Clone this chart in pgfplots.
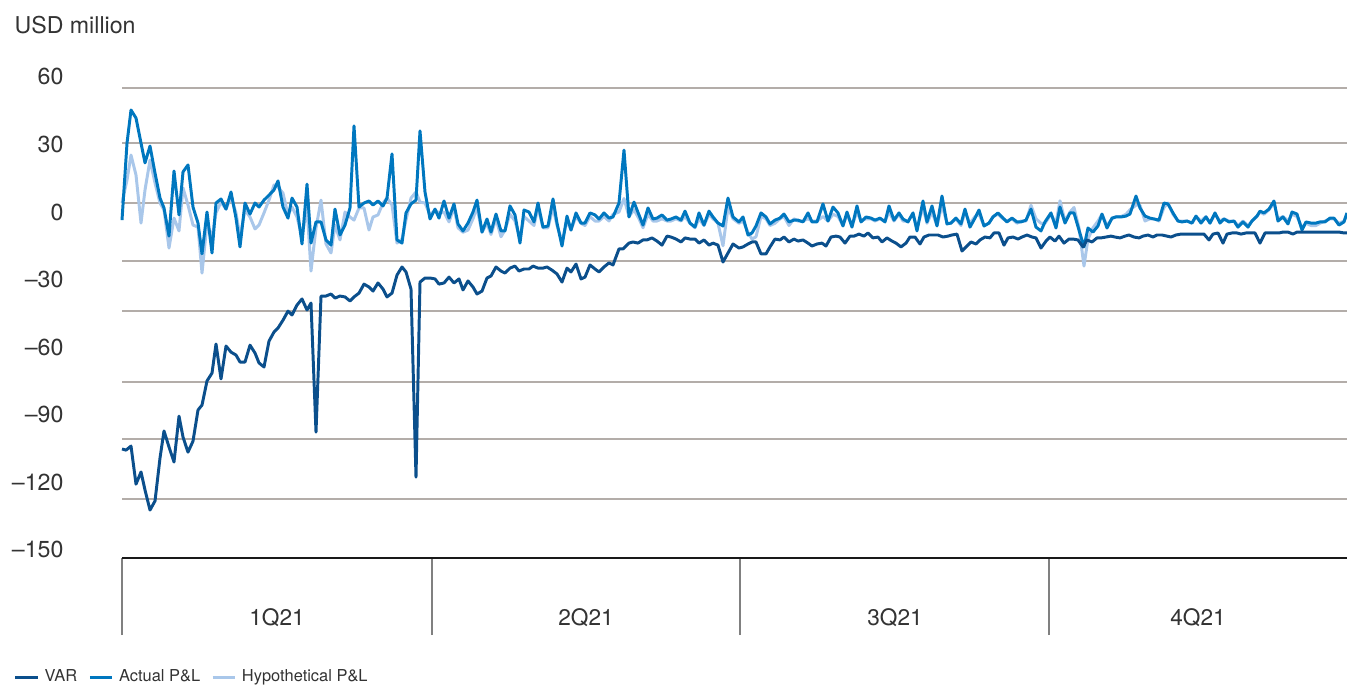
\documentclass[border=0pt]{standalone}
\usepackage{pgfplots}
\pgfplotsset{compat=1.18}
\usepackage{pgfplotstable}
\usepackage{fontspec}
\setmainfont{TeX Gyre Heros}
\definecolor{varc}{HTML}{0B4F8C}
\definecolor{actc}{HTML}{0077BF}
\definecolor{hypc}{HTML}{A9C7EA}
\definecolor{gridc}{HTML}{B3ADA9}
\definecolor{txtc}{HTML}{333333}

\pgfplotstableread{
x y
122 -105.2
126 -105.7
131 -103.9
136 -120.8
141 -115.4
145 -123.4
150 -132.3
155 -128.3
160 -109.2
164 -97.2
169 -104.3
174 -111.0
179 -90.6
183 -99.9
188 -106.6
193 -101.7
198 -87.9
202 -85.7
207 -75.0
212 -71.5
216 -58.6
221 -74.1
226 -59.5
231 -62.2
236 -63.5
240 -66.6
245 -66.6
250 -59.1
255 -62.6
259 -67.0
264 -68.8
269 -57.3
274 -53.3
278 -51.5
283 -48.0
288 -44.0
292 -45.7
297 -41.3
302 -38.6
307 -43.5
311 -40.4
316 -97.7
321 -37.3
326 -37.3
331 -36.4
335 -38.2
340 -37.3
345 -37.7
350 -39.5
354 -37.7
359 -36.0
364 -32.0
369 -33.3
373 -35.1
378 -31.5
383 -34.2
387 -37.7
392 -36.0
397 -28.0
402 -24.4
406 -26.6
411 -34.2
416 -117.7
420 -31.1
425 -29.3
430 -29.3
435 -29.7
439 -32.0
444 -31.5
449 -28.9
454 -31.5
459 -29.7
463 -34.6
468 -30.6
473 -33.3
477 -36.4
482 -35.1
487 -29.3
491 -28.4
496 -24.4
501 -26.2
505 -27.1
510 -24.9
515 -24.0
519 -26.2
524 -25.3
529 -25.3
533 -24.0
538 -24.9
543 -24.9
547 -24.4
552 -25.8
557 -27.5
562 -31.1
567 -24.9
571 -26.6
576 -23.1
581 -29.7
585 -28.9
590 -23.5
595 -25.3
599 -26.6
604 -24.4
609 -22.6
613 -23.5
619 -16.4
623 -16.4
629 -13.8
633 -13.3
638 -13.8
643 -12.4
647 -12.4
652 -11.5
657 -12.9
662 -14.7
667 -10.7
671 -11.1
676 -12.0
681 -13.3
685 -11.5
690 -12.0
695 -12.0
699 -13.8
704 -12.4
709 -14.7
713 -13.8
718 -14.7
723 -22.2
728 -18.2
733 -14.2
739 -16.0
743 -15.5
748 -14.2
752 -13.3
756 -13.3
761 -18.6
766 -18.6
770 -15.5
775 -12.0
780 -12.4
784 -11.1
789 -13.3
794 -12.0
798 -12.9
803 -12.4
808 -13.8
812 -15.1
817 -14.2
822 -13.8
826 -15.1
831 -11.1
836 -10.7
840 -11.1
845 -13.8
850 -10.7
854 -10.7
859 -9.8
864 -10.7
868 -9.3
873 -11.5
878 -11.1
882 -13.3
887 -11.5
892 -12.9
896 -13.8
901 -15.5
906 -13.8
910 -11.1
915 -11.1
920 -14.2
924 -11.1
929 -10.2
934 -10.2
938 -10.2
943 -11.1
948 -10.7
952 -10.2
957 -9.8
962 -17.3
966 -15.5
971 -13.3
976 -14.2
980 -12.4
985 -11.1
990 -11.5
994 -9.3
999 -9.3
1004 -14.7
1008 -11.5
1013 -11.1
1018 -12.0
1022 -11.1
1027 -10.2
1032 -11.1
1036 -11.5
1041 -16.0
1046 -12.9
1050 -11.1
1055 -12.9
1059 -10.7
1064 -13.8
1069 -12.0
1073 -12.0
1078 -12.4
1083 -15.5
1087 -12.4
1092 -13.3
1097 -11.5
1101 -11.5
1106 -11.1
1111 -10.7
1115 -11.1
1120 -11.5
1125 -10.7
1129 -10.2
1134 -11.1
1139 -11.5
1143 -10.7
1148 -10.2
1153 -11.1
1157 -10.2
1162 -10.2
1167 -10.7
1171 -11.1
1176 -10.2
1181 -9.8
1185 -9.8
1190 -9.8
1195 -9.8
1199 -9.8
1204 -9.8
1209 -12.4
1213 -9.8
1218 -9.3
1223 -13.8
1227 -9.8
1232 -9.3
1237 -9.3
1241 -9.8
1246 -9.3
1251 -9.3
1255 -9.3
1260 -13.8
1265 -9.3
1269 -9.3
1274 -9.3
1279 -9.3
1283 -8.9
1288 -8.9
1293 -9.8
1297 -8.9
1302 -8.9
1307 -8.9
1311 -8.9
1316 -8.9
1321 -8.9
1325 -8.9
1330 -8.9
1335 -8.9
1339 -8.9
1344 -9.3
1347 -9.3
}\varT

\pgfplotstableread{
x y
122 -3.6
127 30.6
131 45.3
136 41.7
141 30.6
145 21.8
150 29.3
155 17.3
160 6.2
164 1.8
169 -10.7
174 18.2
179 -1.3
183 17.8
188 20.9
193 2.2
198 -4.9
202 -18.6
207 0
212 -18.2
216 4.0
221 5.8
226 1.3
231 8.9
236 -2.7
240 -15.5
245 4.0
250 -0.9
255 4.0
259 2.2
264 5.3
269 7.5
274 9.8
278 13.8
283 2.2
288 -2.7
292 6.2
297 2.2
302 -14.2
307 12.4
311 -13.8
316 -4.4
321 -4.4
326 -12.4
331 -14.7
335 1.3
340 -10.2
345 -5.8
350 1.8
354 38.2
359 2.2
364 4.0
369 4.9
373 3.1
378 4.9
383 2.7
387 6.2
392 25.8
397 -12.4
402 -13.8
406 -0.4
411 3.6
416 5.3
420 36.0
425 8.9
430 -3.1
435 1.3
439 -2.7
444 4.9
449 -2.7
454 3.6
458 -5.3
463 -8.4
468 -4.9
473 0
477 5.3
482 -8.9
487 -3.1
491 -8.9
496 -0.9
501 -8.4
505 -8.4
510 2.7
515 -1.3
520 -13.8
524 0.9
529 0
534 -4.4
538 4.0
543 -6.7
548 -6.2
553 5.8
557 -4.9
562 -15.1
567 -1.8
571 -8.0
576 -0.4
581 -4.9
585 -4.9
590 -0.4
595 -1.3
599 -3.1
604 -0.4
609 -2.7
613 -2.2
619 4.0
624 27.5
629 -2.2
634 4.4
639 -1.3
643 -5.8
648 1.8
653 -3.1
657 -2.7
662 -1.3
667 -3.6
671 -3.1
676 -2.2
681 -3.6
685 0.4
690 -4.9
695 -6.7
699 -0.4
704 -5.8
709 0.4
713 -2.2
718 -4.9
723 -6.2
728 6.2
733 -2.2
739 -4.4
743 -2.2
748 -10.2
752 -9.3
756 -6.2
761 -0.4
766 -2.2
770 -5.3
775 -3.6
780 -2.7
784 -0.9
789 -4.4
794 -3.6
798 -3.6
803 -4.4
808 -0.4
812 -4.4
817 -4.4
823 3.6
828 -4.0
833 2.2
838 -0.4
843 -6.2
847 0
852 -6.7
857 2.7
861 -4.4
866 -2.2
871 -2.7
875 -3.6
880 -2.7
885 -4.4
889 2.7
894 -3.6
899 -0.4
903 -3.1
908 -4.4
913 -0.4
917 -8.4
923 4.9
927 -4.4
932 2.7
937 -6.2
942 7.1
947 -5.3
951 -4.9
956 -2.7
961 -5.3
965 1.3
970 -6.7
975 -2.7
979 0.9
984 -6.2
989 -4.9
993 -2.2
998 -0.4
1003 -2.7
1007 -4.4
1012 -2.7
1017 -4.4
1021 -4.4
1026 -3.6
1031 1.3
1036 -6.7
1041 -8.4
1045 -4.4
1051 -0.4
1056 -7.1
1060 2.2
1065 -4.9
1070 -0.4
1074 -0.4
1079 -8.0
1084 -15.5
1088 -7.1
1093 -8.9
1098 -6.2
1102 -0.9
1107 -7.1
1112 -2.7
1116 -2.2
1121 -2.2
1126 -1.8
1130 -0.9
1136 7.1
1140 1.8
1145 -1.8
1150 -2.7
1154 -3.1
1159 -3.6
1164 4.0
1168 3.6
1173 -0.4
1178 -4.0
1182 -4.4
1187 -4.0
1192 -4.9
1196 -1.8
1201 -4.9
1206 -2.2
1210 -4.9
1215 -0.4
1220 -4.9
1224 -3.1
1229 -4.4
1234 -4.0
1238 -6.7
1243 -4.4
1248 -6.7
1252 -4.0
1257 -1.8
1260 0.4
1264 -0.4
1269 1.3
1274 4.9
1278 -4.0
1283 -2.2
1288 -5.3
1292 0
1297 -0.9
1302 -8.0
1306 -4.4
1311 -4.9
1316 -4.9
1320 -4.4
1325 -4.4
1330 -2.7
1334 -2.7
1339 -5.8
1344 -4.4
1347 -0.4
}\actT

\pgfplotstableread{
x y
122 4.0
127 14.2
131 25.3
136 16.4
141 -4.9
145 9.8
150 23.1
155 12.9
160 4.0
164 0.9
169 -16.0
174 -2.7
179 -8.4
183 10.7
188 3.1
193 -5.8
198 -6.7
202 -27.1
207 -4.9
212 -11.5
216 -0.4
221 4.4
226 1.3
231 6.7
236 -0.4
240 -11.1
245 0.9
250 -2.2
255 -7.5
259 -5.8
264 -0.4
269 5.3
274 12.0
278 11.1
283 8.4
288 -1.3
292 2.2
297 -2.2
302 -11.1
307 2.2
311 -26.2
316 -7.1
321 5.3
326 -14.2
331 -18.2
335 -5.8
340 -12.4
345 0
350 -2.2
354 -3.6
359 1.8
364 1.8
369 -8.0
373 -2.2
378 -1.3
383 4.0
387 6.2
392 3.1
397 -13.8
402 -12.0
406 -3.6
411 6.2
416 8.9
420 4.4
425 4.0
430 -1.3
435 0.9
439 -0.4
444 0
449 -4.4
454 2
458 -7
463 -9
468 -8
473 -3
477 2
482 -9
487 -5
491 -10
496 -3
501 -11
505 -8
510 -1
515 -4
520 -12
524 -2
529 -4
534 -6
538 2
543 -7
548 -7
553 2
557 -6
562 -13
567 -4
571 -8
576 -2
581 -5
585 -6
590 -2
595 -4
599 -4
604 -2
609 -4
613 -1
619 0
624 6
629 -2
634 1
639 -3
643 -7
648 -1
653 -4
657 -4
662 -3
667 -4
671 -4
676 -3
681 -4
685 -2
690 -5
695 -7
699 -3
704 -6
709 -1
713 -3
718 -5
723 -15
728 2
733 -3
739 -5
743 -4
748 -9
752 -12
756 -11
761 -2
766 -3
770 -6
775 -5
780 -3
784 -2
789 -6
794 -3
798 -4
803 -4
808 -3
812 -4
817 -4
823 -2
828 -4
833 -1
838 -2
843 -6
847 -1
852 -6
857 0
861 -4
866 -3
871 -3
875 -4
880 -3
885 -4
889 0
894 -4
899 -1
903 -4
908 -4
913 -1
917 -7
923 2
927 -5
932 0
937 -6
942 3
947 -5
951 -5
956 -3
961 -6
965 0
970 -5
975 -2
979 -1
984 -6
989 -5
993 -2
998 -1
1003 -3
1007 -4
1012 -3
1017 -5
1021 -4
1026 -4
1031 3
1036 -3
1041 -5
1045 -5
1051 -1
1056 -5
1060 5
1065 -4
1070 0
1074 2
1079 -7
1084 -24
1088 -12
1093 -7
1098 -4
1102 -1
1107 -6
1112 -3
1116 -2
1121 -2
1126 -1
1130 1
1136 3
1140 3
1145 -4
1150 -3
1154 -3
1159 -4
1164 2
1168 4
1173 -1
1178 -4
1182 -4
1187 -4
1192 -5
1196 -2
1201 -4
1206 -2
1210 -5
1215 -1
1220 -4
1224 -3
1229 -4
1234 -4
1238 -6
1243 -4
1248 -6
1252 -4
1257 -2
1260 0
1264 -1
1269 1
1274 4
1278 -3
1283 -2
1288 -4
1292 -1
1297 -2
1302 -7
1306 -5
1311 -6
1316 -6
1320 -5
1325 -4
1330 -3
1334 -3
1339 -5
1344 -4
1347 -1
}\hypT

\begin{document}
\begin{tikzpicture}
\begin{axis}[
  width=454.7pt, height=178.6pt, scale only axis,
  xmin=122, xmax=1347, ymin=-153.6, ymax=60,
  axis line style={draw=none},
  xtick={122,432,740,1049}, xticklabels={},
  xtick pos=bottom, tick align=outside,
  x tick style={draw=black!50, line width=0.5pt},
  major tick length=28.6pt,
  ytick={60,30,0,-30,-60,-90,-120,-150},
  yticklabels={60,30,0,–30,–60,–90,–120,–150},
  y tick style={draw=none},
  yticklabel style={anchor=east, xshift=10.4pt, text=txtc, font=\fontsize{8.6}{10}\selectfont},
  extra y ticks={55.1,30.6,4.0,-21.8,-44.0,-75.5,-100.8,-127.4},
  extra y tick labels={},
  extra y tick style={grid=major, major grid style={draw=gridc, line width=0.5pt}, tick style={draw=none}},
  clip=false,
  legend columns=3,
  reverse legend,
  legend style={draw=none, fill=none, at={(axis description cs:0,0)}, anchor=west,
    xshift=-40.3pt, yshift=-44.5pt, font=\fontsize{6.1}{8}\selectfont, text=txtc,
    inner xsep=0pt, nodes={inner xsep=0.5pt},
    /tikz/every odd column/.append style={column sep=1.6pt},
    /tikz/every even column/.append style={column sep=3.6pt}},
  legend image code/.code={\draw[#1] (0pt,0pt) -- (8.2pt,0pt);},
  line join=round,
]
\addplot[hypc, line width=1.1pt] table {\hypT};
\addlegendentry{Hypothetical P\&L}
\addplot[actc, line width=1.1pt] table {\actT};
\addlegendentry{Actual P\&L}
\addplot[varc, line width=1.1pt] table {\varT};
\addlegendentry{VAR}
\draw[line width=1.1pt, color=black!90] (axis cs:122,-153.6) -- (axis cs:1347,-153.6);
\node[anchor=west, text=txtc, font=\fontsize{8.6}{10}\selectfont] at ([xshift=-43.4pt, yshift=19.3pt]rel axis cs:0,1) {USD million};
\node[text=txtc, font=\fontsize{8.4}{10}\selectfont] at ([yshift=-22.3pt]axis cs:277,-153.6) {1Q21};
\node[text=txtc, font=\fontsize{8.4}{10}\selectfont] at ([yshift=-22.3pt]axis cs:586,-153.6) {2Q21};
\node[text=txtc, font=\fontsize{8.4}{10}\selectfont] at ([yshift=-22.3pt]axis cs:895,-153.6) {3Q21};
\node[text=txtc, font=\fontsize{8.4}{10}\selectfont] at ([yshift=-22.3pt]axis cs:1198,-153.6) {4Q21};
\coordinate (O) at (rel axis cs:0,0);
\end{axis}
\pgfresetboundingbox
\path[use as bounding box] ([shift={(-45.29pt,-47.51pt)}]O) rectangle ++(500pt,254.64pt);
\end{tikzpicture}
\end{document}
